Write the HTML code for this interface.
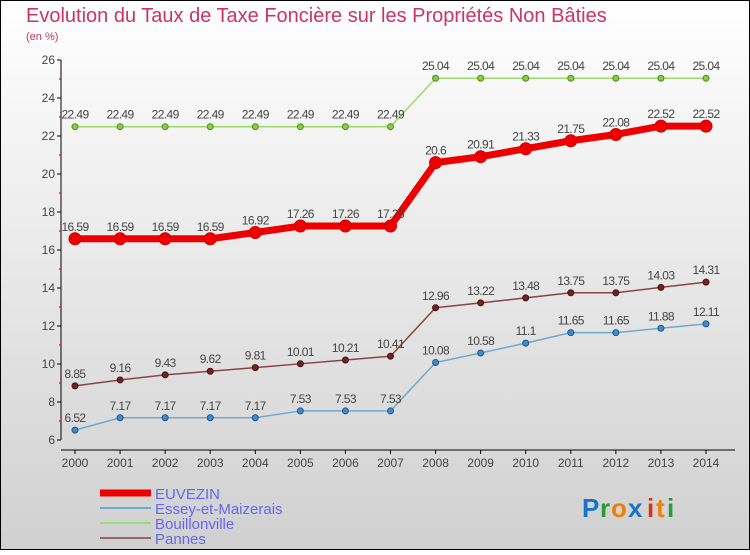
<!DOCTYPE html>
<html><head><meta charset="utf-8"><style>
html,body{margin:0;padding:0}
body{width:750px;height:550px;overflow:hidden;font-family:"Liberation Sans",sans-serif}
</style></head><body>
<svg id="chart" width="750" height="550" xmlns="http://www.w3.org/2000/svg">
<defs><linearGradient id="bg" x1="0" y1="0" x2="0" y2="1"><stop offset="0" stop-color="#ffffff"/><stop offset="1" stop-color="#d0d0d0"/></linearGradient></defs>
<rect x="0.5" y="0.5" width="749" height="549" fill="url(#bg)" stroke="#000"/>
<text x="26" y="22" font-size="20" fill="#cc3366">Evolution du Taux de Taxe Foncière sur les Propriétés Non Bâties</text>
<text x="26" y="40" font-size="11" fill="#cc3366">(en %)</text>
<g id="g"></g>
<g font-size="15" fill="#6666ee">
<line x1="100" y1="493" x2="151" y2="493" stroke="#ee0000" stroke-width="7"/>
<text x="155" y="499">EUVEZIN</text>
<line x1="100" y1="508" x2="151" y2="508" stroke="#6fa8d0" stroke-width="2"/>
<text x="155" y="514">Essey-et-Maizerais</text>
<line x1="100" y1="523" x2="151" y2="523" stroke="#99dd77" stroke-width="2"/>
<text x="155" y="529">Bouillonville</text>
<line x1="100" y1="538" x2="151" y2="538" stroke="#996666" stroke-width="2"/>
<text x="155" y="544">Pannes</text>
</g>
<g font-size="26" font-weight="bold">
<text x="582" y="517" fill="#1a73c8">P</text><text x="600" y="517" fill="#2a9a3a">r</text><text x="611" y="517" fill="#f08000">o</text><text x="628" y="517" fill="#1a73c8">x</text><text x="647" y="517" fill="#e03010">i</text><text x="656" y="517" fill="#f08000">t</text><text x="667" y="517" fill="#2a9a3a">i</text>
</g>
</svg>
<script>
const years=[2000,2001,2002,2003,2004,2005,2006,2007,2008,2009,2010,2011,2012,2013,2014];
const euvezin=[16.59,16.59,16.59,16.59,16.92,17.26,17.26,17.26,20.6,20.91,21.33,21.75,22.08,22.52,22.52];
const essey=[6.52,7.17,7.17,7.17,7.17,7.53,7.53,7.53,10.08,10.58,11.1,11.65,11.65,11.88,12.11];
const bouillonville=[22.49,22.49,22.49,22.49,22.49,22.49,22.49,22.49,25.04,25.04,25.04,25.04,25.04,25.04,25.04];
const pannes=[8.85,9.16,9.43,9.62,9.81,10.01,10.21,10.41,12.96,13.22,13.48,13.75,13.75,14.03,14.31];
const yTicks=[6,8,10,12,14,16,18,20,22,24,26];
const NS="http://www.w3.org/2000/svg";
const g=document.getElementById('g');
const xs=i=>75+i*(706-75)/14;
const ys=v=>440-(v-6)*19;
function el(t,a){const e=document.createElementNS(NS,t);for(const k in a)e.setAttribute(k,a[k]);g.appendChild(e);return e;}
let ya=el('line',{x1:61,y1:60,x2:61,y2:440,stroke:'#000'});


let xa=el('line',{x1:61,y1:450,x2:735,y2:450,stroke:'#000'});


yTicks.forEach(v=>{
 el('line',{x1:57,y1:ys(v),x2:61,y2:ys(v),stroke:'#000'});
 let t=el('text',{x:55,y:ys(v)+4,'font-size':12,fill:'#444','text-anchor':'end'});t.textContent=v;
 
 
 if(v<26) el('line',{x1:59,y1:ys(v+1),x2:61,y2:ys(v+1),stroke:'#c00'});
});
years.forEach((y,i)=>{
 el('line',{x1:xs(i),y1:450,x2:xs(i),y2:454,stroke:'#000'});
 let t=el('text',{x:xs(i),y:467,'font-size':12,fill:'#444','text-anchor':'middle'});t.textContent=y;
 
 
});
function series(data,name,lc,pc,pstroke,w,r){
 const pts=data.map((v,i)=>xs(i)+','+ys(v)).join(' ');
 let l=el('polyline',{points:pts,fill:'none',stroke:lc,'stroke-width':w,'stroke-linejoin':'round'});
 
 
 data.forEach((v,i)=>{
  let c=el('circle',{cx:xs(i),cy:ys(v),r:r,fill:pc,stroke:pstroke,'stroke-width':1});
  
  
  let t=el('text',{x:xs(i),y:ys(v)-8,'font-size':12,fill:'#444','text-anchor':'middle','letter-spacing':'-0.6'});t.textContent=v;
  
  
 });
}
series(bouillonville,'bouillonville','#99dd66','#88cc44','#558822',1.5,3);
series(pannes,'pannes','#884444','#772222','#441111',1.5,3);
series(essey,'essey','#6fa8d0','#3d8ccc','#225588',1.5,3);
series(euvezin,'euvezin','#ee0000','#ee0000','#cc0000',7,6);
</script>
</body></html>
